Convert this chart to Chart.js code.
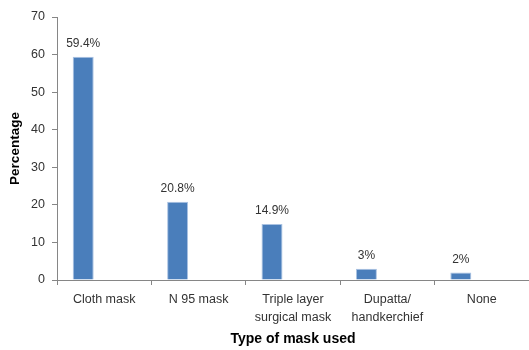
<!DOCTYPE html>
<html>
<head>
<meta charset="utf-8">
<script src="https://cdn.jsdelivr.net/npm/chart.js@4"></script>
<style>
  html, body { margin: 0; padding: 0; background: #fff; }
  #wrap { width: 529px; height: 350px; }
</style>
</head>
<body>
<div id="wrap"><canvas id="maskChart" width="529" height="350"></canvas></div>
<script>
// chart data
const categories = ['Cloth mask', 'N 95 mask', ['Triple layer', 'surgical mask'], ['Dupatta/', 'handkerchief'], 'None'];
const percentages = [59.4, 20.8, 14.9, 3, 2];
const valueLabels = ['59.4%', '20.8%', '14.9%', '3%', '2%'];
const yTicks = [0, 10, 20, 30, 40, 50, 60, 70];

const textColor = '#333333';
const axisColor = '#868686';

// draws the percentage text above each bar
const barLabels = {
  id: 'barLabels',
  afterDatasetsDraw(chart) {
    const ctx = chart.ctx;
    const meta = chart.getDatasetMeta(0);
    ctx.save();
    ctx.font = '12px "Liberation Sans", Arial, sans-serif';
    ctx.fillStyle = textColor;
    ctx.textAlign = 'center';
    ctx.textBaseline = 'bottom';
    meta.data.forEach((bar, i) => {
      ctx.fillText(valueLabels[i], bar.x, bar.y - 7);
    });
    ctx.restore();
  }
};

new Chart(document.getElementById('maskChart'), {
  type: 'bar',
  data: {
    labels: categories,
    datasets: [
      {
        data: percentages,
        backgroundColor: '#4a7ebb',
        borderColor: '#a9c2e2',
        borderWidth: 1,
        categoryPercentage: 0.667,
        barPercentage: 1
      },
      // empty series so the bar sits left in its category like the original
      { data: [], categoryPercentage: 0.667, barPercentage: 1 },
      { data: [], categoryPercentage: 0.667, barPercentage: 1 }
    ]
  },
  options: {
    responsive: false,
    animation: false,
    layout: { padding: { top: 17, right: 0, left: 0, bottom: 0 } },
    plugins: {
      legend: { display: false },
      tooltip: { enabled: false }
    },
    scales: {
      x: {
        offset: true,
        grid: {
          offset: true,
          drawOnChartArea: false,
          drawTicks: true,
          tickLength: 5,
          color: axisColor
        },
        border: { color: axisColor },
        ticks: {
          color: textColor,
          font: { family: '"Liberation Sans", Arial, sans-serif', size: 12.5, lineHeight: 1.4 },
          padding: 6,
          maxRotation: 0,
          autoSkip: false
        },
        title: {
          display: true,
          text: 'Type of mask used',
          color: '#000',
          font: { family: '"Liberation Sans", Arial, sans-serif', size: 14, weight: 'bold' },
          padding: { top: 6, bottom: 2 }
        },
        afterFit(scale) { scale.height = 70; }
      },
      y: {
        min: 0,
        max: 70,
        afterBuildTicks(scale) { scale.ticks = yTicks.map(v => ({ value: v })); },
        grid: {
          drawOnChartArea: false,
          drawTicks: true,
          tickLength: 5,
          color: axisColor
        },
        border: { color: axisColor },
        ticks: {
          color: textColor,
          font: { family: '"Liberation Sans", Arial, sans-serif', size: 12.5 },
          padding: 7
        },
        title: {
          display: true,
          text: 'Percentage',
          color: '#000',
          font: { family: '"Liberation Sans", Arial, sans-serif', size: 13.5, weight: 'bold' },
          padding: { top: 7, bottom: 0 }
        },
        afterFit(scale) { scale.width = 57; }
      }
    }
  },
  plugins: [barLabels]
});
</script>
</body>
</html>
